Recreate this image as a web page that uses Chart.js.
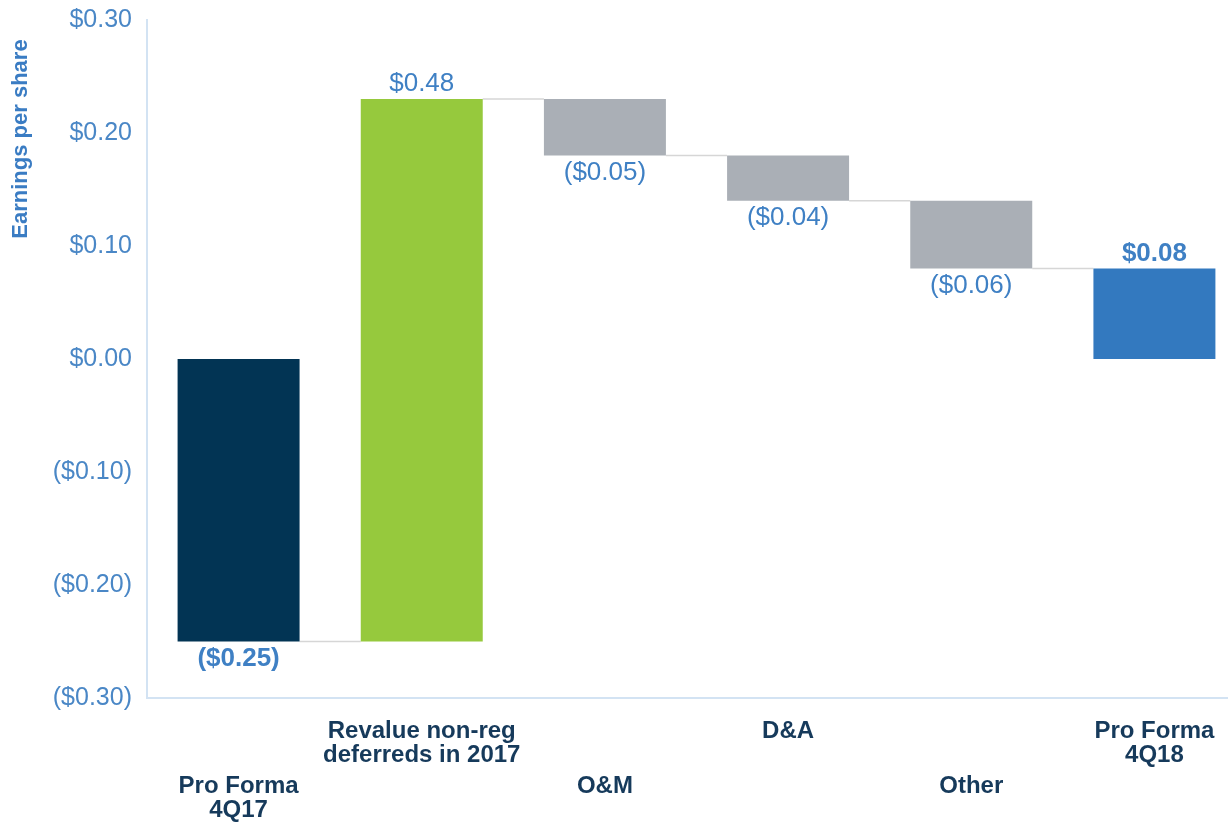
<!DOCTYPE html>
<html>
<head>
<meta charset="utf-8">
<script src="https://cdn.jsdelivr.net/npm/chart.js@4/dist/chart.umd.min.js"></script>
<style>
  html, body { margin: 0; padding: 0; background: #fff; overflow: hidden; }
  #wrap { width: 1246px; height: 825px; position: relative; }
</style>
</head>
<body>
<div id="wrap"><canvas id="myChart"></canvas></div>
<script>
'use strict';

// Data
var categories = [['Pro Forma', '4Q17'], ['Revalue non-reg', 'deferreds in 2017'], ['O&M'], ['D&A'], ['Other'], ['Pro Forma', '4Q18']];
var changes = [-0.25, 0.48, -0.05, -0.04, -0.06, 0.08];
var isTotal = [true, false, false, false, false, true];
var valueLabels = ['($0.25)', '$0.48', '($0.05)', '($0.04)', '($0.06)', '$0.08'];
var yTicks = [-0.30, -0.20, -0.10, 0.00, 0.10, 0.20, 0.30];
var barColors = ['#023454', '#96c93d', '#aaafb6', '#aaafb6', '#aaafb6', '#3379bf'];

// floating ranges for the waterfall
var ranges = [];
var running = 0;
for (var i = 0; i < changes.length; i++) {
    if (isTotal[i]) {
        ranges.push([0, changes[i]]);
        running = changes[i];
    } else {
        ranges.push([running, running + changes[i]]);
        running = running + changes[i];
    }
}

function money(v) {
    var c = Math.round(v * 100);
    if (c < 0) return '($' + (Math.abs(c) / 100).toFixed(2) + ')';
    return '$' + (c / 100).toFixed(2);
}

var labelBlue = '#3f80c4';
var navyText = '#163a5b';
var fontFamily = '"Liberation Sans", Arial, sans-serif';

var waterfallExtras = {
    id: 'waterfallExtras',
    beforeDatasetsDraw: function (chart) {
        var ctx = chart.ctx;
        var meta = chart.getDatasetMeta(0);
        var y = chart.scales.y;
        ctx.save();
        ctx.strokeStyle = '#d6d6d6';
        ctx.lineWidth = 1.5;
        for (var i = 0; i < meta.data.length - 1; i++) {
            var a = meta.data[i], b = meta.data[i + 1];
            var level = y.getPixelForValue(ranges[i][1]);
            ctx.beginPath();
            ctx.moveTo(a.x + a.width / 2, level);
            ctx.lineTo(b.x - b.width / 2, level);
            ctx.stroke();
        }
        ctx.restore();
    },
    afterDraw: function (chart) {
        var ctx = chart.ctx;
        var meta = chart.getDatasetMeta(0);
        var y = chart.scales.y;
        ctx.save();
        // value labels
        ctx.textAlign = 'center';
        ctx.textBaseline = 'middle';
        ctx.fillStyle = labelBlue;
        for (var i = 0; i < meta.data.length; i++) {
            var bar = meta.data[i];
            var r = ranges[i];
            var up = changes[i] > 0;
            var edge = up ? Math.max(r[0], r[1]) : Math.min(r[0], r[1]);
            var py = y.getPixelForValue(edge) + (up ? -15 : 17);
            ctx.font = (isTotal[i] ? 'bold ' : '') + '26px ' + fontFamily;
            ctx.fillText(valueLabels[i], bar.x, py);
        }
        // staggered category labels
        ctx.fillStyle = navyText;
        ctx.font = 'bold 24px ' + fontFamily;
        for (var j = 0; j < categories.length; j++) {
            var cx = chart.scales.x.getPixelForValue(j);
            var top = (j % 2 === 0) ? 786 : 731;
            for (var k = 0; k < categories[j].length; k++) {
                ctx.fillText(categories[j][k], cx, top + k * 24);
            }
        }
        // axis title
        ctx.translate(21, 139);
        ctx.rotate(-Math.PI / 2);
        ctx.fillStyle = '#3a7cc3';
        ctx.font = 'bold 22px ' + fontFamily;
        ctx.fillText('Earnings per share', 0, 0);
        ctx.restore();
    }
};

var ctx = document.getElementById('myChart').getContext('2d');

var chart = new Chart(ctx, {
    type: 'bar',
    data: {
        labels: categories,
        datasets: [{
            data: ranges,
            backgroundColor: barColors,
            borderWidth: 0,
            barPercentage: 0.666,
            categoryPercentage: 1
        }]
    },
    options: {
        responsive: true,
        maintainAspectRatio: false,
        animation: false,
        layout: { padding: { top: 20, bottom: 119, left: 0, right: 0 } },
        plugins: {
            legend: { display: false },
            tooltip: { enabled: false }
        },
        scales: {
            x: {
                grid: { display: false },
                border: { display: true, color: '#d3e3f3', width: 2 },
                ticks: { display: false }
            },
            y: {
                min: -0.3,
                max: 0.3,
                afterFit: function (scale) {
                    scale.width = 147;
                    scale.paddingTop = 0;
                    scale.paddingBottom = 0;
                },
                afterBuildTicks: function (scale) {
                    scale.ticks = yTicks.map(function (v) { return { value: v }; });
                },
                grid: { display: false, drawTicks: false },
                border: { display: true, color: '#d3e3f3', width: 2 },
                ticks: {
                    padding: 15,
                    color: '#4a87c6',
                    font: { family: fontFamily, size: 25 },
                    callback: function (v) { return money(v); }
                }
            }
        }
    },
    plugins: [waterfallExtras]
});
</script>
</body>
</html>
